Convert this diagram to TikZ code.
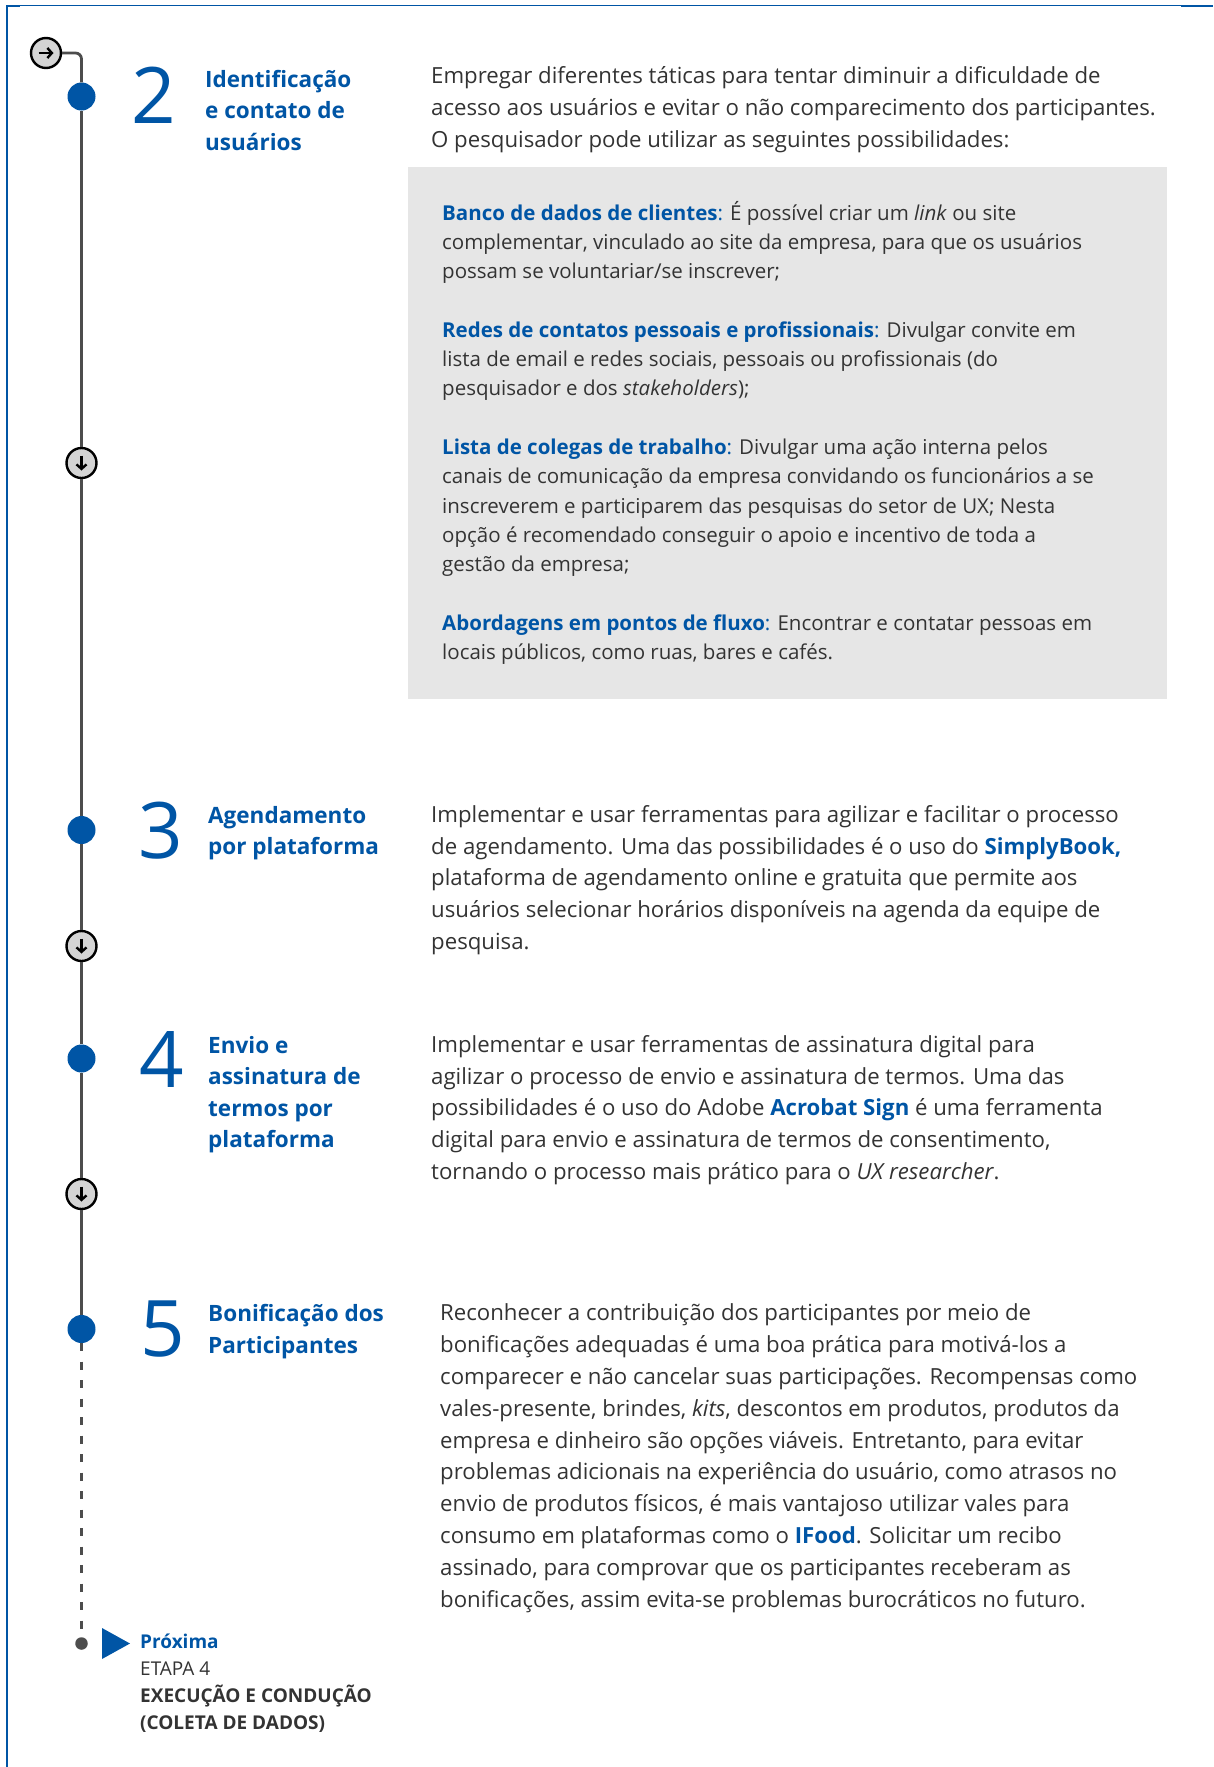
\documentclass[tikz,border=0pt]{standalone}
\usepackage{fontspec}
\setmainfont{Open Sans}
\usetikzlibrary{arrows.meta,positioning,calc}
\definecolor{stepblue}{HTML}{0055A5}
\definecolor{bodygray}{HTML}{333333}
\definecolor{boxgray}{HTML}{E6E6E6}
\definecolor{linegray}{HTML}{4D4D4D}
\definecolor{knobgray}{HTML}{D4D4D4}

\newcommand{\hl}[1]{{\color{stepblue}\bfseries #1}}
\newcommand{\hlc}{{\color{stepblue}:}}

% multi-line nodes sit on the baseline of their last line
\tikzset{
  stepdot/.style={circle, fill=stepblue, minimum size=28pt, inner sep=0pt},
  knob/.style={circle, draw=black, fill=knobgray, line width=2.4pt, minimum size=30pt, inner sep=0pt},
  tline/.style={linegray, line width=2.8pt},
  knobarrow/.style={black, line width=2.4pt, -{Straight Barb[length=4.5pt,width=10pt]}},
  stepnum/.style={stepblue, inner sep=0pt, font=\fontsize{78}{78}\selectfont},
  steptitle/.style={anchor=base west, align=left, inner sep=0pt, text=stepblue, font=\fontsize{22.5}{31.5}\selectfont\bfseries},
  desctext/.style={anchor=base west, align=left, inner sep=0pt, text=bodygray, font=\fontsize{22.2}{31.6}\selectfont},
  boxtext/.style={desctext, font=\fontsize{20.5}{29.3}\selectfont},
}

\begin{document}
\begin{tikzpicture}[x=1pt,y=-1pt]
  \useasboundingbox (0,0) rectangle (1213,1767);

  % frame
  \draw[stepblue, line width=1.6pt] (1213,5.5) -- (7,5.5) -- (7,1767);
  \fill[stepblue] (1181,4.6) rectangle (1213,7);
  \fill[stepblue] (6,4.6) rectangle (20,7);

  % --- timeline nodes ---
  \node[knob] (start) at (46,53) {};
  \node[stepdot] (dot2) at (81.5,96.5) {};
  \node[knob] (down1) at (81.5,463) {};
  \node[stepdot] (dot3) at (81.5,830) {};
  \node[knob] (down2) at (81.5,946) {};
  \node[stepdot] (dot4) at (81.5,1058.5) {};
  \node[knob] (down3) at (81.5,1194) {};
  \node[stepdot] (dot5) at (81.5,1329) {};
  \node[circle, fill=linegray, minimum size=12.5pt, inner sep=0pt] (enddot) at (81.5,1643.5) {};

  % connectors
  \draw[tline, rounded corners=6pt] (start) -| (dot2);
  \draw[tline] (dot2) -- (down1) -- (dot3) -- (down2) -- (dot4) -- (down3) -- (dot5);
  \draw[tline, dash pattern=on 8pt off 10.5pt] (dot5) -- (enddot);

  % arrows in the knobs
  \draw[knobarrow] (start) +(-7.5,0) -- +(7.5,0);
  \draw[knobarrow] (down1) +(0,-7.5) -- +(0,7.5);
  \draw[knobarrow] (down2) +(0,-7.5) -- +(0,7.5);
  \draw[knobarrow] (down3) +(0,-7.5) -- +(0,7.5);

  % --- Step 2 ---
  \node[stepnum] (num2) at (154,95) {2};
  \node[steptitle] (title2) at (205,150) {Identificação\\e contato de\\usuários};
  \node[desctext] (desc2) at (431,147) {Empregar diferentes táticas para tentar diminuir a dificuldade de\\acesso aos usuários e evitar o não comparecimento dos participantes.\\O pesquisador pode utilizar as seguintes possibilidades:};

  \fill[boxgray] (408,167) rectangle (1167,699);
  \node[boxtext] (opt1) at (442,278.6) {\hl{Banco de dados de clientes}\hlc{} É possível criar um \textit{link} ou site\\complementar, vinculado ao site da empresa, para que os usuários\\possam se voluntariar/se inscrever;};
  \node[boxtext] (opt2) at (442,395.6) {\hl{Redes de contatos pessoais e profissionais}\hlc{} Divulgar convite em\\lista de email e redes sociais, pessoais ou profissionais (do\\pesquisador e dos \textit{stakeholders});};
  \node[boxtext] (opt3) at (442,571.7) {\hl{Lista de colegas de trabalho}\hlc{} Divulgar uma ação interna pelos\\canais de comunicação da empresa convidando os funcionários a se\\inscreverem e participarem das pesquisas do setor de UX; Nesta\\opção é recomendado conseguir o apoio e incentivo de toda a\\gestão da empresa;};
  \node[boxtext] (opt4) at (442,659.3) {\hl{Abordagens em pontos de fluxo}\hlc{} Encontrar e contatar pessoas em\\locais públicos, como ruas, bares e cafés.};

  % --- Step 3 ---
  \node[stepnum] (num3) at (161,831) {3};
  \node[steptitle] (title3) at (208,854.5) {Agendamento\\por plataforma};
  \node[desctext] (desc3) at (431,949) {Implementar e usar ferramentas para agilizar e facilitar o processo\\de agendamento. Uma das possibilidades é o uso do \hl{SimplyBook,}\\plataforma de agendamento online e gratuita que permite aos\\usuários selecionar horários disponíveis na agenda da equipe de\\pesquisa.};

  % --- Step 4 ---
  \node[stepnum] (num4) at (161.5,1059) {4};
  \node[steptitle] (title4) at (208,1147.5) {Envio e\\assinatura de\\termos por\\plataforma};
  \node[desctext] (desc4) at (431,1179) {Implementar e usar ferramentas de assinatura digital para\\agilizar o processo de envio e assinatura de termos. Uma das\\possibilidades é o uso do Adobe \hl{Acrobat Sign} é uma ferramenta\\digital para envio e assinatura de termos de consentimento,\\tornando o processo mais prático para o \textit{UX researcher}.};

  % --- Step 5 ---
  \node[stepnum] (num5) at (162.5,1329) {5};
  \node[steptitle] (title5) at (208,1353) {Bonificação dos\\Participantes};
  \node[desctext, font=\fontsize{22.2}{31.8}\selectfont] (desc5) at (440,1607) {Reconhecer a contribuição dos participantes por meio de\\bonificações adequadas é uma boa prática para motivá-los a\\comparecer e não cancelar suas participações. Recompensas como\\vales-presente, brindes, \textit{kits}, descontos em produtos, produtos da\\empresa e dinheiro são opções viáveis. Entretanto, para evitar\\problemas adicionais na experiência do usuário, como atrasos no\\envio de produtos físicos, é mais vantajoso utilizar vales para\\consumo em plataformas como o \hl{IFood}. Solicitar um recibo\\assinado, para comprovar que os participantes receberam as\\bonificações, assim evita-se problemas burocráticos no futuro.};

  % --- next stage ---
  \fill[stepblue] (102,1628) -- (130,1643.5) -- (102,1659) -- cycle;
  \node[desctext, font=\fontsize{19}{27}\selectfont] (next) at (140,1729) {\hl{Próxima}\\ETAPA 4\\\textbf{EXECUÇÃO E CONDUÇÃO}\\\textbf{(COLETA DE DADOS)}};
\end{tikzpicture}
\end{document}
